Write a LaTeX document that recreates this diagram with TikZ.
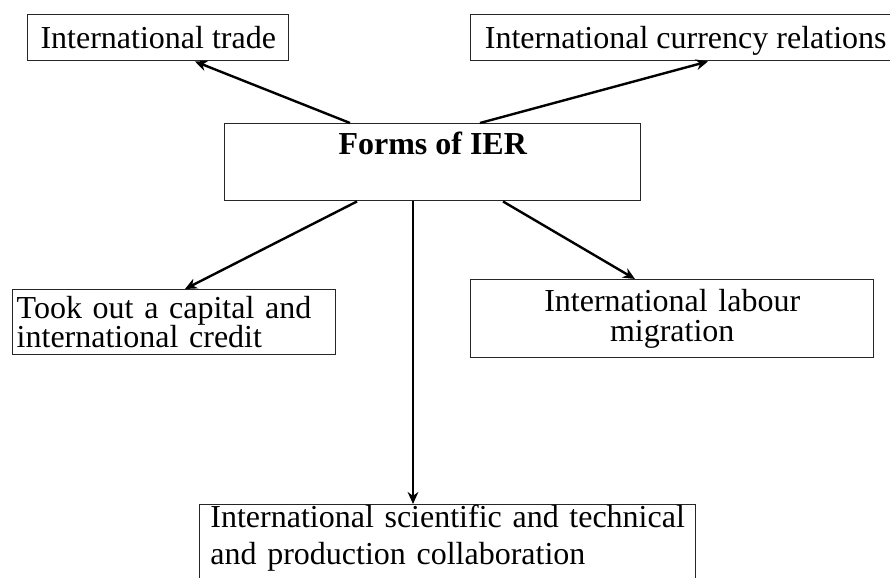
\documentclass[tikz,border=0pt]{standalone}
\usepackage{fontspec}
\setmainfont{Liberation Serif}
\usetikzlibrary{arrows.meta,calc}

\begin{document}
\begin{tikzpicture}[
  x=0.75pt, y=-0.75pt,
  form/.style={draw=black!85, line width=1.1pt, inner xsep=3pt, inner ysep=0pt, anchor=north west, font=\fontsize{24}{22}\selectfont},
  arrow/.style={-{Stealth[length=9pt,width=8pt]}, line width=1.8pt}
]
\useasboundingbox (0,0) rectangle (890,578);
\node[form, minimum width=195.75pt, text height=25pt, text depth=9.5pt] (trade) at (27,14) {International trade};
\node[form, minimum width=322.5pt, text height=25pt, text depth=9.5pt] (cur) at (470,14) {International currency relations};
\node[form, font=\bfseries\fontsize{24}{22}\selectfont, minimum width=312pt, text height=23.25pt, text depth=34.5pt] (ier) at (224,123) {Forms of IER};
\node[form, align=left, text width=236.25pt, minimum height=48.75pt] (took) at (12,289) {Took out a capital and\\international credit};
\node[form, align=center, text width=296.25pt, minimum height=58.5pt] (labour) at (470,279) {International labour\\migration};
\node[form, inner xsep=8pt, align=left, text width=356pt, font=\fontsize{24}{27.75}\selectfont] (collab) at (199,504) {International scientific and technical\\and production collaboration\rule[-20pt]{0pt}{0pt}};
\draw[arrow] ($(ier.north west)+(126,0)$) -- ($(trade.south west)+(168,0)$);
\draw[arrow] ($(ier.north west)+(256,0)$) -- ($(cur.south west)+(238,0)$);
\draw[arrow] ($(ier.south west)+(133,0)$) -- ($(took.north west)+(173,0)$);
\draw[arrow] ($(ier.south west)+(189,0)$) -- ($(collab.north west)+(214,0)$);
\draw[arrow] ($(ier.south west)+(279,0)$) -- ($(labour.north west)+(165,0)$);
\end{tikzpicture}
\end{document}
